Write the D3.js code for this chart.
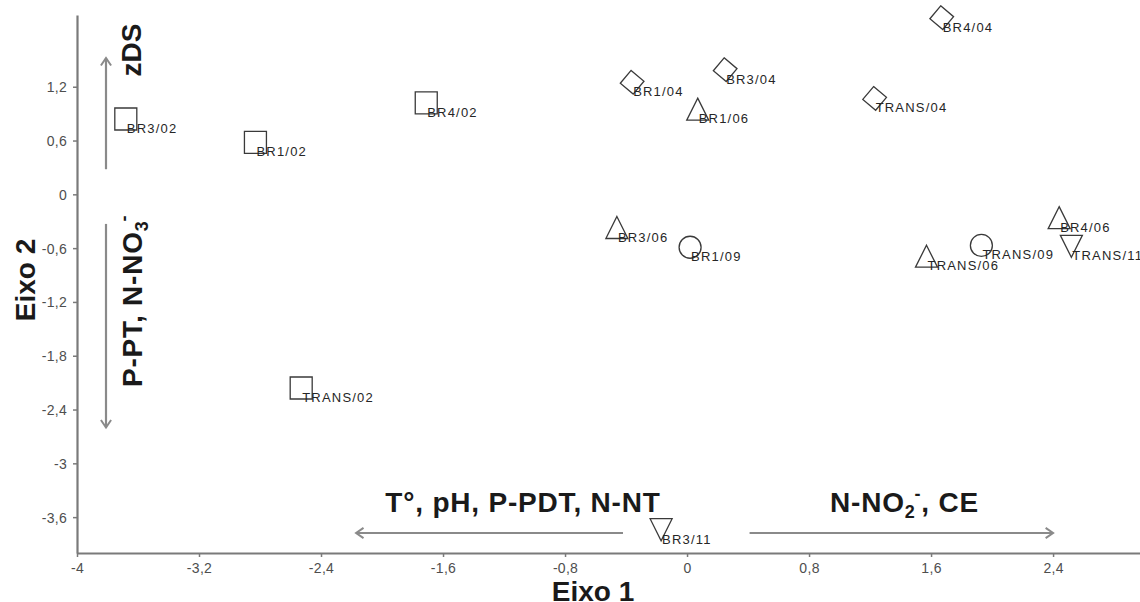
<!DOCTYPE html>
<html>
<head>
<meta charset="utf-8">
<script src="https://cdn.jsdelivr.net/npm/d3@7/dist/d3.min.js"></script>
<style>
  html, body { margin: 0; padding: 0; background: #fff; }
  svg { display: block; }
  text { font-family: "Liberation Sans", Arial, sans-serif; }
</style>
</head>
<body>
<svg id="chart" width="1140" height="602"></svg>
<script>
// Sample sites/periods and their ordination scores
const sampleLabels = ["BR3/02", "BR1/02", "BR4/02", "TRANS/02",
  "BR1/04", "BR3/04", "BR4/04", "TRANS/04",
  "BR1/06", "BR3/06", "BR4/06", "TRANS/06",
  "BR1/09", "TRANS/09", "BR3/11", "TRANS/11"];
const eixo1Values = [-3.68, -2.83, -1.71, -2.53,
  -0.36, 0.25, 1.67, 1.23,
  0.07, -0.46, 2.44, 1.57,
  0.02, 1.93, -0.17, 2.52];
const eixo2Values = [0.84, 0.58, 1.02, -2.16,
  1.25, 1.39, 1.97, 1.07,
  0.95, -0.37, -0.26, -0.69,
  -0.59, -0.57, -3.74, -0.58];

const xTickValues = [-4, -3.2, -2.4, -1.6, -0.8, 0, 0.8, 1.6, 2.4];
const yTickValues = [-3.6, -3, -2.4, -1.8, -1.2, -0.6, 0, 0.6, 1.2];

// Variable vectors along each axis: [from, to] in axis units
const eixo1Neg = [-0.42, -2.17];
const eixo1Pos = [0.41, 2.40];
const eixo2Pos = [0.28, 1.52];
const eixo2Neg = [-0.33, -2.60];

const svg = d3.select("#chart");
const x = d3.scaleLinear().domain([-4, 2.97]).range([77, 1140]);
const y = d3.scaleLinear().domain([-4, 2.0]).range([553, 15]);
const fmt = d => (Math.round(d * 10) / 10).toString().replace(".", ",");

const axisColor = "#7a7a7a";

// Axes
const gx = svg.append("g").attr("transform", `translate(0,${y(-4)})`)
  .call(d3.axisBottom(x).tickValues(xTickValues).tickFormat(fmt).tickSize(4).tickSizeOuter(0));
const gy = svg.append("g").attr("transform", `translate(${x(-4)},0)`)
  .call(d3.axisLeft(y).tickValues(yTickValues).tickFormat(fmt).tickSize(4).tickSizeOuter(0));
[gx, gy].forEach(g => {
  g.select(".domain").attr("stroke", axisColor).attr("stroke-width", 2.2);
  g.selectAll(".tick line").attr("stroke", axisColor).attr("stroke-width", 1.5);
  g.selectAll(".tick text").attr("fill", "#4e4e4e").attr("font-size", 14)
    .attr("letter-spacing", 0.3).style("font-family", "'Liberation Sans', Arial, sans-serif");
});
gx.selectAll(".tick text").attr("dy", "0.95em");
gy.selectAll(".tick text").attr("dx", "-3").attr("dy", "0.36em");

// Axis titles
svg.append("text").attr("x", 593).attr("y", 601).attr("text-anchor", "middle")
  .attr("font-size", 28).attr("font-weight", "bold").attr("fill", "#1a1a1a").text("Eixo 1");
svg.append("text").attr("transform", "translate(35,280) rotate(-90)").attr("text-anchor", "middle")
  .attr("font-size", 28).attr("font-weight", "bold").attr("fill", "#1a1a1a").text("Eixo 2");

// Vector arrows with open heads
const arrowColor = "#8a8a8a";
function arrow(x1, y1, x2, y2) {
  const ang = Math.atan2(y2 - y1, x2 - x1);
  const len = 9, spread = 0.6;
  svg.append("line").attr("x1", x1).attr("y1", y1).attr("x2", x2).attr("y2", y2)
    .attr("stroke", arrowColor).attr("stroke-width", 2.2);
  const p1 = [x2 - len * Math.cos(ang - spread), y2 - len * Math.sin(ang - spread)];
  const p2 = [x2 - len * Math.cos(ang + spread), y2 - len * Math.sin(ang + spread)];
  svg.append("path").attr("d", `M${p1}L${x2},${y2}L${p2}`)
    .attr("fill", "none").attr("stroke", arrowColor).attr("stroke-width", 2);
}
const arrowY = 533, arrowX = 106;
arrow(x(eixo1Neg[0]), arrowY, x(eixo1Neg[1]), arrowY);
arrow(x(eixo1Pos[0]), arrowY, x(eixo1Pos[1]), arrowY);
arrow(arrowX, y(eixo2Pos[0]), arrowX, y(eixo2Pos[1]));
arrow(arrowX, y(eixo2Neg[0]), arrowX, y(eixo2Neg[1]));

// Vector labels
const lab = (sel) => sel.attr("font-size", 28).attr("font-weight", "bold")
  .attr("letter-spacing", 0.8).attr("fill", "#1a1a1a");
lab(svg.append("text").attr("x", 523).attr("y", 512).attr("text-anchor", "middle"))
  .text("T\u00b0, pH, P-PDT, N-NT");

const t2 = lab(svg.append("text").attr("x", 830).attr("y", 512));
t2.append("tspan").text("N-NO");
t2.append("tspan").attr("font-size", 18).attr("dy", 6).text("2");
t2.append("tspan").attr("font-size", 18).attr("dy", -18).attr("dx", -1).text("-");
t2.append("tspan").attr("dy", 12).text(", CE");

lab(svg.append("text").attr("transform", "translate(141,50) rotate(-90)").attr("text-anchor", "middle"))
  .attr("letter-spacing", 0).text("zDS");

const t4 = lab(svg.append("text").attr("transform", "translate(142,387) rotate(-90)"));
t4.append("tspan").text("P-PT, N-NO");
t4.append("tspan").attr("font-size", 18).attr("dy", 6).text("3");
t4.append("tspan").attr("font-size", 18).attr("dy", -18).attr("dx", -1).text("-");

// Marker shape by sampling month
const r = 11;
const shapes = {
  "02": () => `M${-r},${-r}H${r}V${r}H${-r}Z`,
  "04": () => {
    const s = 8.4, a = 40 * Math.PI / 180;
    const pts = [[-s, -s], [s, -s], [s, s], [-s, s]].map(([px, py]) =>
      [px * Math.cos(a) - py * Math.sin(a), px * Math.sin(a) + py * Math.cos(a)]);
    return "M" + pts.map(p => p.join(",")).join("L") + "Z";
  },
  "06": () => `M0,${-r}L${r},${r}L${-r},${r}Z`,
  "09": () => d3.arc()({ innerRadius: 0, outerRadius: r, startAngle: 0, endAngle: 2 * Math.PI }),
  "11": () => `M${-r},${-r}L${r},${-r}L0,${r}Z`
};

const points = sampleLabels.map((label, i) => ({
  label, e1: eixo1Values[i], e2: eixo2Values[i], month: label.split("/")[1]
}));

const g = svg.append("g");
g.selectAll("path.pt").data(points).join("path").attr("class", "pt")
  .attr("transform", d => `translate(${x(d.e1)},${y(d.e2)})`)
  .attr("d", d => shapes[d.month]())
  .attr("fill", "none").attr("stroke", "#3a3a3a").attr("stroke-width", 1.3);

g.selectAll("text.lbl").data(points).join("text").attr("class", "lbl")
  .attr("x", d => x(d.e1) + 1).attr("y", d => y(d.e2) + 14)
  .attr("font-size", 13).attr("letter-spacing", 1.2).attr("fill", "#262626")
  .text(d => d.label);
</script>
</body>
</html>
